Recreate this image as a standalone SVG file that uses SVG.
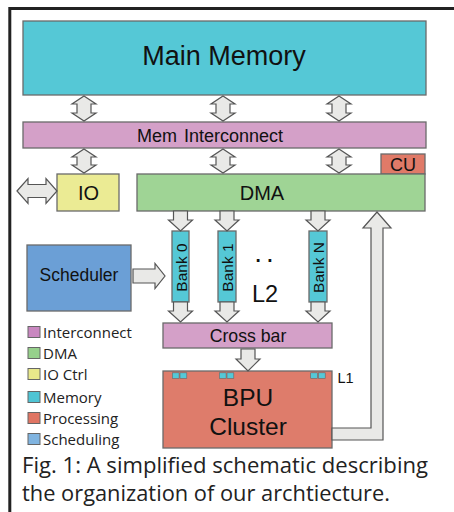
<svg xmlns="http://www.w3.org/2000/svg" width="454" height="512" viewBox="0 0 454 512">
<style>
.box{stroke:#6a6a6a;stroke-width:1.3}
.arr{fill:#e9e9e7;stroke:#555;stroke-width:1.2;stroke-linejoin:miter}
.lbl{font-family:"Liberation Sans",Arial,sans-serif;fill:#111;text-anchor:middle}
.leg{font-family:"Open Sans","Noto Sans",sans-serif;fill:#222;font-size:15px}
.cap{font-family:"Open Sans","Noto Sans",sans-serif;fill:#222;font-size:21px}
.mem{fill:#55c8d6}
.ic{fill:#d4a0c8}
.sq{stroke:#666;stroke-width:1}
.l1{fill:#55c8d6;stroke:#666;stroke-width:0.6}
</style>
<rect width="454" height="512" fill="#ffffff"/>
<path d="M9.8,512 V8.5 H454" fill="none" stroke="#222" stroke-width="3"/>

<g id="main-memory">
<rect class="box mem" x="23" y="21" width="403" height="74" fill="#5bc6d6"/>
<text class="lbl" x="224" y="65" font-size="27">Main Memory</text>
</g>
<g id="mem-interconnect">
<rect class="box ic" x="23" y="122" width="403" height="26"/>
<text class="lbl" x="210" y="142" font-size="18" word-spacing="2">Mem Interconnect</text>
</g>
<g id="cu">
<rect class="box" x="381" y="154" width="44" height="20" fill="#e07a68"/>
<text class="lbl" x="403" y="171" font-size="18">CU</text>
</g>
<g id="io">
<rect class="box" x="57" y="174" width="62" height="37" fill="#ebeb94"/>
<text class="lbl" x="88.5" y="200" font-size="20">IO</text>
</g>
<g id="dma">
<rect class="box" x="137" y="174" width="288" height="37" fill="#9fd495"/>
<text class="lbl" x="262" y="200" font-size="20">DMA</text>
</g>
<g id="scheduler">
<rect class="box" x="27" y="245" width="104" height="66" fill="#6b9fd6"/>
<text class="lbl" x="79" y="281" font-size="17.5">Scheduler</text>
</g>
<g id="bank0">
<rect class="box mem" x="172" y="231" width="17" height="71"/>
<text class="lbl" transform="translate(186.5,267.5) rotate(-90)" font-size="15.5">Bank 0</text>
</g>
<g id="bank1">
<rect class="box mem" x="218" y="231" width="18" height="71"/>
<text class="lbl" transform="translate(233,267.5) rotate(-90)" font-size="15.5">Bank 1</text>
</g>
<g id="bankN">
<rect class="box mem" x="309" y="231" width="18" height="71"/>
<text class="lbl" transform="translate(324,267.5) rotate(-90)" font-size="15.5">Bank N</text>
</g>
<g id="l2">
<text class="lbl" x="266" y="262" font-size="28" letter-spacing="4">..</text>
<text class="lbl" x="265" y="302" font-size="23.5">L2</text>
</g>
<g id="crossbar">
<rect class="box ic" x="163" y="323" width="169" height="25"/>
<text class="lbl" x="248" y="342" font-size="17.7">Cross bar</text>
</g>
<g id="bpu-cluster">
<rect class="box" x="163" y="371" width="169" height="77" fill="#de7c6b"/>
<rect class="l1" x="172.3" y="372.8" width="6.8" height="5.5"/>
<rect class="l1" x="180" y="372.8" width="6.8" height="5.5"/>
<rect class="l1" x="219.3" y="372.8" width="6.8" height="5.5"/>
<rect class="l1" x="227" y="372.8" width="6.8" height="5.5"/>
<rect class="l1" x="310.7" y="372.8" width="6.8" height="5.5"/>
<rect class="l1" x="318.4" y="372.8" width="6.8" height="5.5"/>
<text class="lbl" x="248" y="406" font-size="24.5">BPU</text>
<text class="lbl" x="248" y="434.5" font-size="24.5">Cluster</text>
<text class="lbl" x="345.5" y="383" font-size="14.5">L1</text>
</g>

<g id="connectors">
<path class="arr" d="M84,96 L96,104 H91 V113 H96 L84,121 L72,113 H77 V104 H72 Z"/>
<path class="arr" d="M223,96 L235,104 H230 V113 H235 L223,121 L211,113 H216 V104 H211 Z"/>
<path class="arr" d="M339,96 L351,104 H346 V113 H351 L339,121 L327,113 H332 V104 H327 Z"/>
<path class="arr" d="M84,149 L96,157 H91 V165 H96 L84,173 L72,165 H77 V157 H72 Z"/>
<path class="arr" d="M223,149 L235,157 H230 V165 H235 L223,173 L211,165 H216 V157 H211 Z"/>
<path class="arr" d="M339,149 L351,157 H346 V165 H351 L339,173 L327,165 H332 V157 H327 Z"/>
<path class="arr" d="M17,191 L28,178.5 V184.5 H46 V178.5 L57,191 L46,203.5 V197.5 H28 V203.5 Z"/>
<path class="arr" d="M173.5,211 H187.5 V220 H192.5 L180.5,231 L168.5,220 H173.5 Z"/>
<path class="arr" d="M220,211 H234 V220 H239 L227,231 L215,220 H220 Z"/>
<path class="arr" d="M311,211 H325 V220 H330 L318,231 L306,220 H311 Z"/>
<path class="arr" d="M173.5,302 H187.5 V311 H192.5 L180.5,322 L168.5,311 H173.5 Z"/>
<path class="arr" d="M220,302 H234 V311 H239 L227,322 L215,311 H220 Z"/>
<path class="arr" d="M311,302 H325 V311 H330 L318,322 L306,311 H311 Z"/>
<path class="arr" d="M133,269 H155 V263.5 L165,276 L155,288.5 V283 H133 Z"/>
<path class="arr" d="M241,349 H255 V359 H260 L248,371 L236,359 H241 Z"/>
<path class="arr" d="M332,428 H371 V228 H363 L377,212 L391,228 H383 V440 H332 Z"/>
</g>

<g id="legend">
<rect class="sq" x="28" y="326.5" width="12" height="11" fill="#c987c0"/>
<text class="leg" x="43" y="337.5">Interconnect</text>
<rect class="sq" x="28" y="347.5" width="12" height="11" fill="#96d08b"/>
<text class="leg" x="43" y="358.5">DMA</text>
<rect class="sq" x="28" y="368.5" width="12" height="11" fill="#e8e88a"/>
<text class="leg" x="43" y="379.5">IO Ctrl</text>
<rect class="sq" x="28" y="391.5" width="12" height="11" fill="#4fc4d4"/>
<text class="leg" x="43" y="402.5">Memory</text>
<rect class="sq" x="28" y="412.5" width="12" height="11" fill="#e07563"/>
<text class="leg" x="43" y="423.5">Processing</text>
<rect class="sq" x="28" y="433.5" width="12" height="11" fill="#80b4e0"/>
<text class="leg" x="43" y="444.5">Scheduling</text>
</g>

<g id="caption">
<text class="cap" x="22" y="473" textLength="406" lengthAdjust="spacingAndGlyphs">Fig. 1: A simplified schematic describing</text>
<text class="cap" x="22" y="501" textLength="368" lengthAdjust="spacingAndGlyphs">the organization of our archtiecture.</text>
</g>
</svg>
